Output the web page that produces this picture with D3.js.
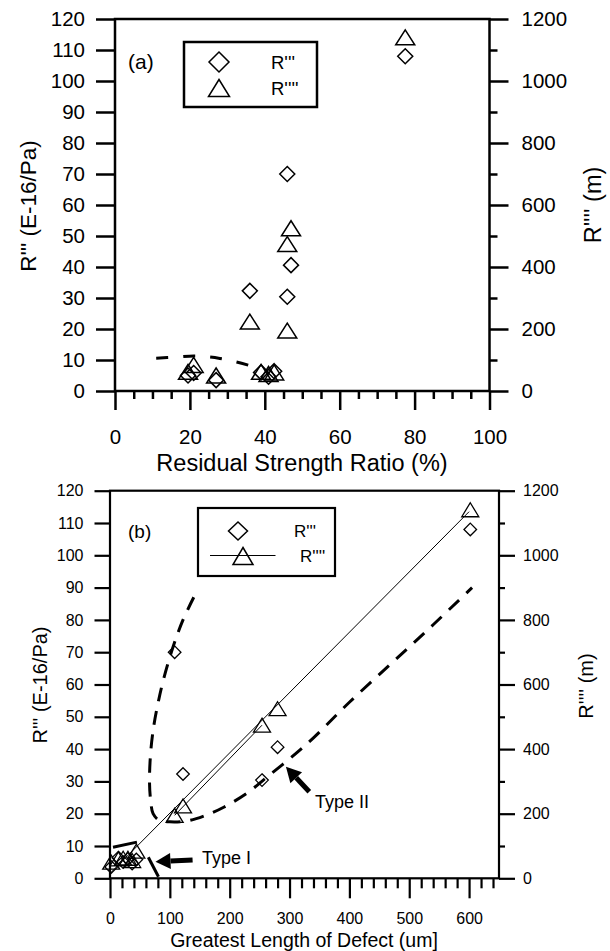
<!DOCTYPE html>
<html><head><meta charset="utf-8">
<script src="https://cdn.jsdelivr.net/npm/d3@7"></script>
<style>body{margin:0;background:#fff}svg{display:block}</style>
</head><body><svg id="c" width="610" height="951"></svg>
<script>
// ---- data (one entry per specimen) ----
const residualRatio = [19.5, 21, 27, 39, 41, 42.5, 36, 46, 46, 47, 77.5];   // %
const defectLength  = [22, 44, 2, 30, 37, 14, 122, 108, 254, 280, 602];     // um
const R3 = [5.0, 5.8, 3.5, 6.0, 4.6, 6.4, 32.3, 70, 30.4, 40.6, 108];      // R''' (E-16/Pa)
const R4 = [62, 84, 50, 62, 55, 60, 224, 195, 474, 525, 1141];              // R'''' (m)

// dashed boundary in (a): [ratio, R''']
const boundaryA = [[11, 10.6], [16, 10.9], [21, 11.3], [25, 11.0], [28, 10.5], [32, 9.5], [36, 8.2]];
// Type II boundary in (b): [um, R''']
const typeIICurve = [[140, 87], [122, 80], [106, 72], [90, 62], [80, 54], [73, 47], [68, 39], [66, 30],
  [68, 24], [72, 20], [82, 18], [100, 17.5], [130, 17.8], [160, 19.5], [190, 22], [230, 26.5],
  [260, 31], [300, 37], [340, 43.5], [400, 54.5], [470, 66.5], [540, 78.5], [605, 90]];
// Type I boundary pieces in (b): [um, R''']
const typeIPieces = [[[5, 9.6], [45, 11.2]], [[64, 6.5], [81, 0.5]]];
// solid lines through R'''' in (b): [um, R'''']
const fitR4 = [[0, 15], [600, 1135]];
const linkR4 = [[108, 195], [254, 474]];

const ticksLeft = d3.range(0, 121, 10);
const ticksRightMajor = d3.range(0, 1201, 200);
const ticksRightMinor = d3.range(100, 1200, 200);
const ticksXA = d3.range(0, 101, 20);
const ticksXAminor = d3.range(5, 100, 5).filter(v => v % 20 !== 0);
const ticksXB = d3.range(0, 601, 100);
const ticksXBminor = d3.range(20, 650, 20).filter(v => v % 100 !== 0);

const FONT = "'Liberation Sans', Arial, Helvetica, sans-serif";
const svg = d3.select('#c');
svg.append('rect').attr('width', 610).attr('height', 951).attr('fill', '#fff');

function styleAxis(g, fs, sw) {
  g.select('.domain').remove();
  g.selectAll('line').attr('stroke', '#000').attr('stroke-width', sw);
  g.selectAll('text').attr('fill', '#000').style('font-family', FONT).style('font-size', fs + 'px');
}
function diamond(w, h) { return `M0,${-h}L${w},0L0,${h}L${-w},0Z`; }
function triangle(w, h) { return `M0,${-h / 2}L${w / 2},${h / 2}L${-w / 2},${h / 2}Z`; }
function txt(x, y, s, fs, anchor, rot) {
  const t = svg.append('text').attr('fill', '#000').style('font-family', FONT).style('font-size', fs + 'px')
    .attr('text-anchor', anchor || 'start').text(s);
  if (rot) t.attr('transform', `translate(${x},${y}) rotate(${rot})`); else t.attr('x', x).attr('y', y);
  return t;
}

// ================= Panel (a) =================
{
  const FS = 20.5;
  const x = d3.scaleLinear().domain([0, 100]).range([115, 489.5]);
  const yL = d3.scaleLinear().domain([0, 120]).range([391, 19]);
  const yR = d3.scaleLinear().domain([0, 1200]).range([391, 19]);
  const g = svg.append('g');
  styleAxis(g.append('g').attr('transform', `translate(${x(0)},0)`)
    .call(d3.axisLeft(yL).tickValues(ticksLeft).tickSize(19).tickPadding(11).tickFormat(d3.format('d'))), FS, 2.5);
  styleAxis(g.append('g').attr('transform', `translate(${x(100)},0)`)
    .call(d3.axisRight(yR).tickValues(ticksRightMajor).tickSize(19).tickPadding(13).tickFormat(d3.format('d'))), FS, 2.5);
  styleAxis(g.append('g').attr('transform', `translate(${x(100)},0)`)
    .call(d3.axisRight(yR).tickValues(ticksRightMinor).tickSize(8).tickFormat('')), FS, 2.5);
  styleAxis(g.append('g').attr('transform', `translate(0,${yL(0)})`)
    .call(d3.axisBottom(x).tickValues(ticksXA).tickSize(19).tickPadding(19).tickFormat(d3.format('d'))), FS, 2.5);
  styleAxis(g.append('g').attr('transform', `translate(0,${yL(0)})`)
    .call(d3.axisBottom(x).tickValues(ticksXAminor).tickSize(8).tickFormat('')), FS, 2.5);
  g.append('rect').attr('x', x(0)).attr('y', yL(120)).attr('width', x(100) - x(0)).attr('height', yL(0) - yL(120))
    .attr('fill', 'none').attr('stroke', '#000').attr('stroke-width', 2.5);

  g.append('path').datum(boundaryA)
    .attr('d', d3.line().x(d => x(d[0])).y(d => yL(d[1])).curve(d3.curveCatmullRom))
    .attr('fill', 'none').attr('stroke', '#000').attr('stroke-width', 3).attr('stroke-dasharray', '12,15');

  g.selectAll('.d').data(R3).join('path').attr('d', diamond(7.5, 7.5))
    .attr('transform', (d, i) => `translate(${x(residualRatio[i])},${yL(d)})`)
    .attr('fill', 'none').attr('stroke', '#000').attr('stroke-width', 1.5);
  g.selectAll('.t').data(R4).join('path').attr('d', triangle(19, 15))
    .attr('transform', (d, i) => `translate(${x(residualRatio[i])},${yR(d)})`)
    .attr('fill', 'none').attr('stroke', '#000').attr('stroke-width', 1.5);

  // legend
  g.append('rect').attr('x', 184).attr('y', 42).attr('width', 133).attr('height', 65)
    .attr('fill', '#fff').attr('stroke', '#000').attr('stroke-width', 2.5);
  g.append('path').attr('d', diamond(10, 10)).attr('transform', 'translate(219,62)')
    .attr('fill', 'none').attr('stroke', '#000').attr('stroke-width', 1.5);
  g.append('path').attr('d', triangle(21, 17)).attr('transform', 'translate(219,88)')
    .attr('fill', 'none').attr('stroke', '#000').attr('stroke-width', 1.5);
  txt(271, 69, "R'''", 18.5);
  txt(271, 95, "R''''", 18.5);
  txt(128, 69, '(a)', 21);

  txt(302, 471, 'Residual Strength Ratio (%)', 23.5, 'middle');
  txt(36, 206, "R''' (E-16/Pa)", 22.5, 'middle', -90);
  txt(601, 205, "R'''' (m)", 23.5, 'middle', -90);
}

// ================= Panel (b) =================
{
  const FS = 16;
  const x = d3.scaleLinear().domain([0, 650]).range([110, 499]);
  const yL = d3.scaleLinear().domain([0, 120]).range([878.3, 490.7]);
  const yR = d3.scaleLinear().domain([0, 1200]).range([878.3, 490.7]);
  const g = svg.append('g');
  styleAxis(g.append('g').attr('transform', `translate(${x(0)},0)`)
    .call(d3.axisLeft(yL).tickValues(ticksLeft).tickSize(15.5).tickPadding(11).tickFormat(d3.format('d'))), FS, 2.2);
  styleAxis(g.append('g').attr('transform', `translate(${x(650)},0)`)
    .call(d3.axisRight(yR).tickValues(ticksRightMajor).tickSize(16).tickPadding(8).tickFormat(d3.format('d'))), FS, 2.2);
  styleAxis(g.append('g').attr('transform', `translate(${x(650)},0)`)
    .call(d3.axisRight(yR).tickValues(ticksRightMinor).tickSize(6).tickFormat('')), FS, 2.2);
  styleAxis(g.append('g').attr('transform', `translate(0,${yL(0)})`)
    .call(d3.axisBottom(x).tickValues(ticksXB).tickSize(20).tickPadding(14).tickFormat(d3.format('d'))), FS, 2.2);
  styleAxis(g.append('g').attr('transform', `translate(0,${yL(0)})`)
    .call(d3.axisBottom(x).tickValues(ticksXBminor).tickSize(10).tickFormat('')), FS, 2.2);
  g.append('rect').attr('x', x(0)).attr('y', yL(120)).attr('width', x(650) - x(0)).attr('height', yL(0) - yL(120))
    .attr('fill', 'none').attr('stroke', '#000').attr('stroke-width', 2.2);

  const lnL = d3.line().x(d => x(d[0])).y(d => yL(d[1]));
  const lnR = d3.line().x(d => x(d[0])).y(d => yR(d[1]));
  g.append('path').datum(typeIICurve).attr('d', lnL.curve(d3.curveCatmullRom))
    .attr('fill', 'none').attr('stroke', '#000').attr('stroke-width', 3).attr('stroke-dasharray', '14,10');
  typeIPieces.forEach(p => g.append('path').datum(p).attr('d', d3.line().x(d => x(d[0])).y(d => yL(d[1])))
    .attr('fill', 'none').attr('stroke', '#000').attr('stroke-width', 3));
  g.append('path').datum(fitR4).attr('d', lnR).attr('fill', 'none').attr('stroke', '#000').attr('stroke-width', 1);
  g.append('path').datum(linkR4).attr('d', lnR).attr('fill', 'none').attr('stroke', '#000').attr('stroke-width', 1);

  g.selectAll('.d').data(R3).join('path').attr('d', diamond(6.3, 6.3))
    .attr('transform', (d, i) => `translate(${x(defectLength[i])},${yL(d)})`)
    .attr('fill', 'none').attr('stroke', '#000').attr('stroke-width', 1.3);
  g.selectAll('.t').data(R4).join('path').attr('d', triangle(17, 14))
    .attr('transform', (d, i) => `translate(${x(defectLength[i])},${yR(d)})`)
    .attr('fill', 'none').attr('stroke', '#000').attr('stroke-width', 1.3);

  // arrows
  function arrow(x1, y1, x2, y2) {
    const ang = Math.atan2(y2 - y1, x2 - x1), L = 15, W = 8;
    const bx = x2 - L * Math.cos(ang), by = y2 - L * Math.sin(ang);
    g.append('line').attr('x1', x1).attr('y1', y1).attr('x2', bx).attr('y2', by)
      .attr('stroke', '#000').attr('stroke-width', 5);
    const px = -Math.sin(ang) * W, py = Math.cos(ang) * W;
    g.append('path').attr('d', `M${x2},${y2}L${bx + px},${by + py}L${bx - px},${by - py}Z`).attr('fill', '#000');
  }
  arrow(x(138), yL(5.7), x(76), yL(5.1));
  arrow(x(333), yL(26.8), x(294), yL(34.5));
  txt(202, 864, 'Type I', 18);
  txt(315, 808, 'Type II', 18);

  // legend
  g.append('rect').attr('x', 198).attr('y', 508).attr('width', 137).attr('height', 68)
    .attr('fill', '#fff').attr('stroke', '#000').attr('stroke-width', 2.2);
  g.append('path').attr('d', diamond(9.5, 9)).attr('transform', 'translate(238,531)')
    .attr('fill', 'none').attr('stroke', '#000').attr('stroke-width', 1.5);
  g.append('line').attr('x1', 210).attr('x2', 275.5).attr('y1', 555.5).attr('y2', 555.5).attr('stroke', '#000').attr('stroke-width', 1);
  g.append('path').attr('d', triangle(20, 17)).attr('transform', 'translate(243,556)')
    .attr('fill', 'none').attr('stroke', '#000').attr('stroke-width', 1.5);
  txt(294, 537, "R'''", 17);
  txt(300, 562, "R''''", 17);
  txt(128, 538, '(b)', 19);

  txt(304, 946.5, 'Greatest Length of Defect (um]', 19.5, 'middle');
  txt(47, 685, "R''' (E-16/Pa)", 20, 'middle', -90);
  txt(593, 686, "R'''' (m)", 20, 'middle', -90);
}
</script></body></html>
